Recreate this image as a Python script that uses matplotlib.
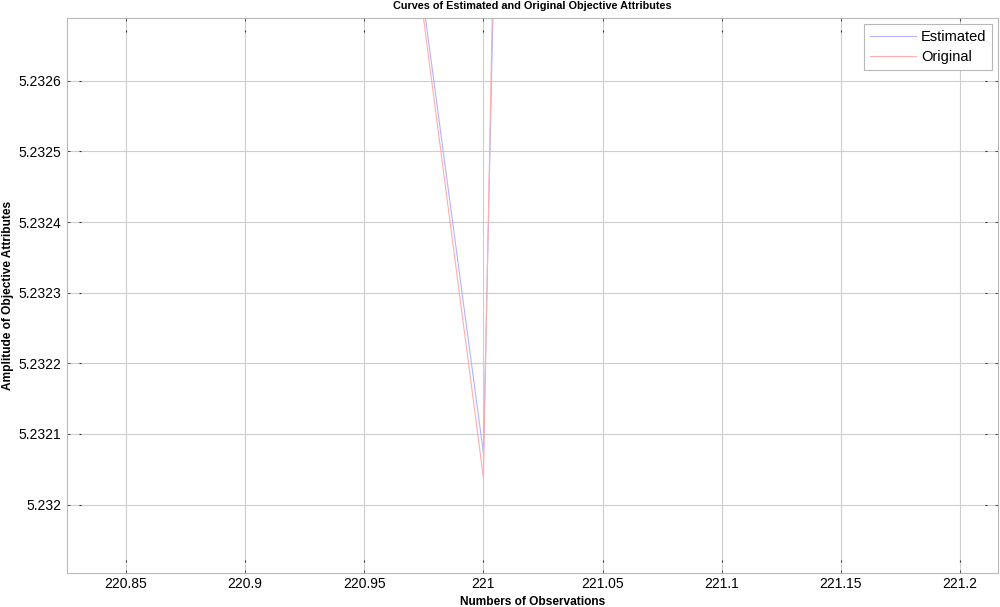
import matplotlib.pyplot as plt
import matplotlib.transforms as mtransforms
import numpy as np

plt.rcParams['font.family'] = ['Liberation Sans', 'DejaVu Sans']

# Observation index and amplitudes (only the neighbourhood of 221 is in view)
observations = [220, 221, 222]
estimated = [5.25742, 5.232073, 5.3870]
original = [5.25794, 5.232038, 5.4090]

xticks = [220.85, 220.9, 220.95, 221, 221.05, 221.1, 221.15, 221.2]
xticklabels = ['220.85', '220.9', '220.95', '221', '221.05', '221.1', '221.15', '221.2']
yticks = [5.232, 5.2321, 5.2322, 5.2323, 5.2324, 5.2325, 5.2326]
yticklabels = ['5.232', '5.2321', '5.2322', '5.2323', '5.2324', '5.2325', '5.2326']

fig = plt.figure(figsize=(10, 6.07), dpi=100)
ax = fig.add_axes([0.067, 0.056, 0.931, 0.9143])

ax.plot(observations, estimated, color=(0.7, 0.7, 1.0), linewidth=0.8, label='Estimated')
ax.plot(observations, original, color=(1.0, 0.68, 0.68), linewidth=0.8, label='Original')

ax.set_xlim(220.8253, 221.2159)
ax.set_ylim(5.231903, 5.232689)

ax.set_xticks(xticks)
ax.set_xticklabels(xticklabels)
ax.set_yticks(yticks)
ax.set_yticklabels(yticklabels)
ax.tick_params(axis='both', direction='in', length=2, width=0.6, color='#333333',
               labelsize=10, top=True, right=True)
ax.tick_params(axis='x', pad=3)
ax.tick_params(axis='y', pad=4)

ax.grid(True, color='#cdcdcd', linewidth=0.8)
ax.set_axisbelow(True)
for s in ax.spines.values():
    s.set_color('#b8b8b8')
    s.set_linewidth(0.8)

# small tick dots drawn a little inside the frame, MATLAB export style
off = 9 / 72.0
tb = mtransforms.blended_transform_factory(ax.transData, ax.transAxes)
tl = mtransforms.blended_transform_factory(ax.transAxes, ax.transData)
up = mtransforms.ScaledTranslation(0, off, fig.dpi_scale_trans)
down = mtransforms.ScaledTranslation(0, -off, fig.dpi_scale_trans)
right = mtransforms.ScaledTranslation(off, 0, fig.dpi_scale_trans)
left = mtransforms.ScaledTranslation(-off, 0, fig.dpi_scale_trans)
for t in xticks:
    ax.plot([t], [0], marker='|', ms=2, color='#333333', mew=0.8, transform=tb + up, clip_on=False)
    ax.plot([t], [1], marker='|', ms=2, color='#333333', mew=0.8, transform=tb + down, clip_on=False)
for t in yticks:
    ax.plot([0], [t], marker='_', ms=2, color='#333333', mew=0.8, transform=tl + right, clip_on=False)
    ax.plot([1], [t], marker='_', ms=2, color='#333333', mew=0.8, transform=tl + left, clip_on=False)

ax.set_title('Curves of Estimated and Original Objective Attributes', fontsize=7.8,
             fontweight='bold', pad=6.5)
ax.set_xlabel('Numbers of Observations', fontsize=8.6, fontweight='bold', labelpad=3.5)
ax.set_ylabel('Amplitude of Objective Attributes', fontsize=8.6, fontweight='bold', labelpad=3)

leg = ax.legend(loc='upper right', fontsize=10.5, fancybox=False, framealpha=1,
                edgecolor='#b8b8b8', borderaxespad=0.4, handlelength=3.2,
                handletextpad=0.3, borderpad=0.4, labelspacing=0.45)
leg.get_frame().set_linewidth(0.8)

fig.savefig('out.png', dpi=100)
